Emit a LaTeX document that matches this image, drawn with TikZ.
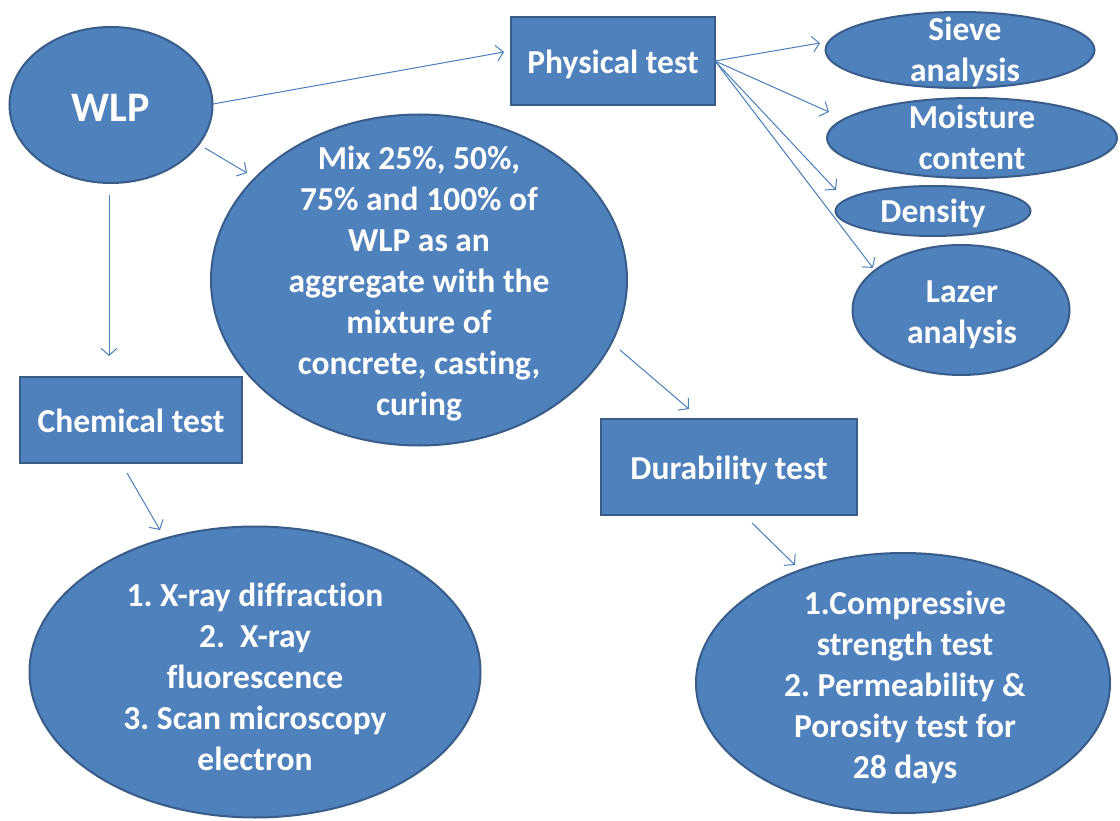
\documentclass[tikz,border=0pt]{standalone}
\usepackage{fontspec}
\setmainfont{Carlito}[Ligatures=NoCommon]
\usetikzlibrary{shapes.geometric,arrows.meta,calc}
\definecolor{fillb}{HTML}{4F81BD}
\definecolor{edgeb}{HTML}{385D8A}
\definecolor{arrb}{HTML}{4A7EBB}
\frenchspacing
\begin{document}
\begin{tikzpicture}[x=1pt,y=-1pt,
 ell/.style={ellipse,draw=edgeb,fill=fillb,line width=2pt,inner sep=0pt},
 boxn/.style={rectangle,draw=edgeb,fill=fillb,line width=2pt,inner sep=0pt},
 txt/.style={text=white,font=\fontsize{33.5}{41}\selectfont\bfseries,align=center,inner sep=0pt},
 arr/.style={draw=arrb,line width=1pt,-{Straight Barb[length=7pt,width=16pt]}}]
\useasboundingbox[fill=white] (0,0) rectangle (1120,821);

% shapes
\node[ell,minimum width=203pt,minimum height=156pt] (wlp) at (111,105) {};
\node[txt,font=\fontsize{42}{48}\selectfont\bfseries] (wlpt) at (111,108) {WLP};
\node[boxn,minimum width=204pt,minimum height=88pt] (phys) at (613,61) {};
\node[txt] (physt) at (613,64) {Physical test};
\node[ell,minimum width=269pt,minimum height=76pt] (sieve) at (960,50) {};
\node[txt] (sievet) at (965,52) {Sieve\\analysis};
\node[ell,minimum width=290pt,minimum height=80pt] (moist) at (972,138) {};
\node[txt] (moistt) at (972,137) {Moisture\\content};
\node[ell,minimum width=195pt,minimum height=50pt] (dens) at (933,211) {};
\node[txt] (denst) at (933,213) {Density};
\node[ell,minimum width=217pt,minimum height=130pt] (lazer) at (961,310) {};
\node[txt] (lazert) at (962,315) {Lazer\\analysis};
\node[ell,minimum width=416pt,minimum height=331pt] (mix) at (419,280) {};
\node[txt] (mixt) at (419,284) {Mix 25\%, 50\%,\\75\% and 100\% of\\WLP as an\\aggregate with the\\mixture of\\concrete, casting,\\curing};
\node[boxn,minimum width=222pt,minimum height=86pt] (chem) at (131,420) {};
\node[txt] (chemt) at (131,421) {Chemical test};
\node[boxn,minimum width=256pt,minimum height=96pt] (dura) at (729,467) {};
\node[txt] (durat) at (729,470) {Durability test};
\node[ell,minimum width=451pt,minimum height=291pt] (chemres) at (255,672) {};
\node[txt] (chemrest) at (255,677) {1. X-ray diffraction\\2.\ \ X-ray\\fluorescence\\3. Scan microscopy\\electron};
\node[ell,minimum width=414pt,minimum height=260pt] (durres) at (903,683) {};
\node[txt] (durrest) at (905,687) {1.Compressive\\strength test\\2. Permeability \&\\Porosity test for\\28 days};

% connectors
\draw[arr] ($(wlp.center)+(102,-1)$) -- ($(phys.west)+(-6,-9)$);
\draw[arr] ($(wlp.center)+(94,43)$) -- ($(mix.center)+(-172,-107)$);
\draw[arr] ($(wlp.center)+(-2,90)$) -- ($(chem.north)+(-22,-20)$);
\draw[arr] ($(phys.center)+(102,0)$) -- ($(sieve.center)+(-140,-7)$);
\draw[arr] ($(phys.center)+(102,0)$) -- ($(moist.center)+(-143,-26)$);
\draw[arr] ($(phys.center)+(102,0)$) -- ($(dens.center)+(-97,-21)$);
\draw[arr] ($(phys.center)+(102,0)$) -- ($(lazer.center)+(-88,-42)$);
\draw[arr] ($(mix.center)+(201,70)$) -- ($(dura.north)+(-40,-9)$);
\draw[arr] ($(chem.south)+(-4,9)$) -- ($(chemres.center)+(-95,-142)$);
\draw[arr] ($(dura.south)+(23,7)$) -- ($(durres.center)+(-108,-118)$);
\end{tikzpicture}
\end{document}
